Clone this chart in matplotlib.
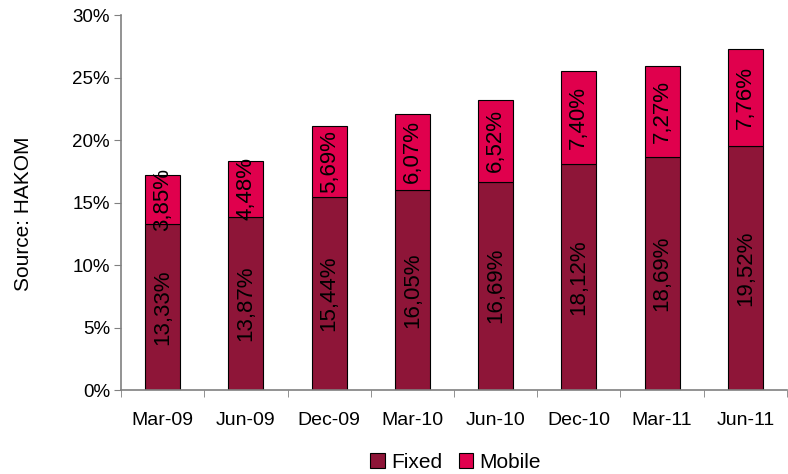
import numpy as np
import matplotlib
matplotlib.use("Agg")
from matplotlib import pyplot as plt
from matplotlib.ticker import FixedLocator, FuncFormatter

plt.rcParams['font.family'] = ['Liberation Sans', 'DejaVu Sans']

periods = ["Mar-09", "Jun-09", "Dec-09", "Mar-10", "Jun-10", "Dec-10", "Mar-11", "Jun-11"]
fixed = [13.33, 13.87, 15.44, 16.05, 16.69, 18.12, 18.69, 19.52]
mobile = [3.85, 4.48, 5.69, 6.07, 6.52, 7.40, 7.27, 7.76]

fixed_color = '#8E1538'
mobile_color = '#E0004D'


def pct_label(v):
    return '{:.2f}%'.format(v).replace('.', ',')


fig = plt.figure(figsize=(7.88, 4.74), dpi=100)
ax = fig.add_axes([0.1536, 0.177, 0.8451, 0.791])

x = np.arange(len(periods))
width = 0.42
bars_fixed = ax.bar(x, fixed, width, color=fixed_color, edgecolor='black',
                    linewidth=0.8, label='Fixed')
bars_mobile = ax.bar(x, mobile, width, bottom=fixed, color=mobile_color,
                     edgecolor='black', linewidth=0.8, label='Mobile')

# rotated value labels in the middle of each segment
for xi, f, m in zip(x, fixed, mobile):
    ax.text(xi, f / 2, pct_label(f), rotation=90, ha='center', va='center',
            fontsize=16, color='black')
    ax.text(xi, f + m / 2, pct_label(m), rotation=90, ha='center', va='center',
            fontsize=16, color='black')

ax.set_xlim(-0.5, len(periods) - 0.5)
ax.set_ylim(0, 30)
ax.set_yticks(np.arange(0, 31, 5))
ax.yaxis.set_major_formatter(FuncFormatter(lambda v, p: '{:.0f}%'.format(v)))
ax.set_xticks(x)
ax.set_xticklabels(periods)
ax.xaxis.set_minor_locator(FixedLocator(np.arange(-0.5, len(periods), 1.0)))
ax.tick_params(axis='x', which='major', length=0, pad=16, labelsize=14)
ax.tick_params(axis='x', which='minor', length=5, color='#808080', direction='out')
ax.tick_params(axis='y', length=5, color='#808080', labelsize=13.5, pad=3)

for side in ['top', 'right']:
    ax.spines[side].set_visible(False)
for side in ['left', 'bottom']:
    ax.spines[side].set_color('#808080')
    ax.spines[side].set_linewidth(1.2)

fig.text(0.03, 0.55, 'Source: HAKOM', rotation=90, ha='center', va='center',
         fontsize=15)

fig.legend(handles=[bars_fixed, bars_mobile], labels=['Fixed', 'Mobile'],
           loc='center', bbox_to_anchor=(0.578, 0.025), ncol=2, frameon=False,
           fontsize=15, handlelength=0.7, handleheight=0.7, handletextpad=0.3,
           columnspacing=0.8)

fig.savefig('out.png', dpi=100)
